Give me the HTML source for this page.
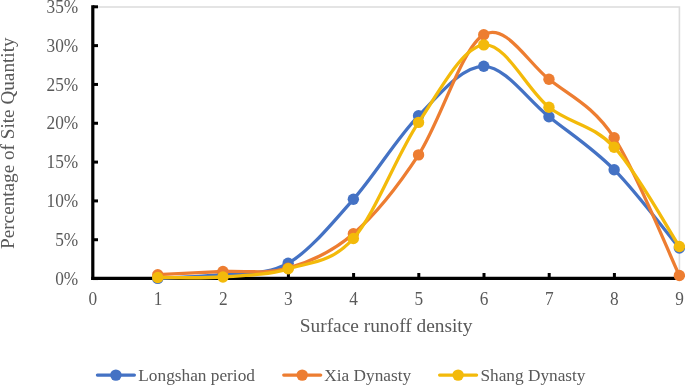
<!DOCTYPE html>
<html><head><meta charset="utf-8"><title>Chart</title>
<style>html,body{margin:0;padding:0;background:#fff;overflow:hidden}body{width:685px;height:385px;position:relative;font-family:"Liberation Serif",serif}</style></head>
<body>
<svg width="685" height="385" viewBox="0 0 685 385" style="display:block;position:absolute;left:0;top:0">
<rect width="685" height="385" fill="#fff"/>
<path d="M92.8,7.0 H679.4 V278.3" fill="none" stroke="#DCDCDC" stroke-width="1.6"/>
<g stroke="#000" stroke-width="3.2" fill="none">
<path d="M92.8,5.3 V280.05"/><path d="M91.2,278.45 H680"/>
</g><g stroke="#000" stroke-width="3" fill="none">
<path d="M92.8,6.80 H98"/>
<path d="M92.8,45.62 H98"/>
<path d="M92.8,84.44 H98"/>
<path d="M92.8,123.26 H98"/>
<path d="M92.8,162.09 H98"/>
<path d="M92.8,200.91 H98"/>
<path d="M92.8,239.73 H98"/>
<path d="M92.8,278.55 H98"/>
<path d="M158.00,278.55 V273"/>
<path d="M223.20,278.55 V273"/>
<path d="M288.40,278.55 V273"/>
<path d="M353.60,278.55 V273"/>
<path d="M418.80,278.55 V273"/>
<path d="M484.00,278.55 V273"/>
<path d="M549.20,278.55 V273"/>
<path d="M614.40,278.55 V273"/>
<path d="M679.60,278.55 V273"/>
</g>
<path d="M157.75,278.40 C168.62,277.73 201.22,276.92 222.95,274.40 C244.68,271.88 266.42,275.82 288.15,263.30 C309.88,250.78 331.62,223.88 353.35,199.30 C375.08,174.72 396.82,137.97 418.55,115.80 C440.28,93.63 462.02,66.15 483.75,66.30 C505.48,66.45 527.22,99.47 548.95,116.70 C570.68,133.93 592.42,147.82 614.15,169.70 C635.88,191.58 668.48,234.95 679.35,248.00" fill="none" stroke="#4472C4" stroke-width="3.3" stroke-linecap="round" stroke-linejoin="round"/>
<circle cx="157.75" cy="278.40" r="5.7" fill="#4472C4"/><circle cx="222.95" cy="274.40" r="5.7" fill="#4472C4"/><circle cx="288.15" cy="263.30" r="5.7" fill="#4472C4"/><circle cx="353.35" cy="199.30" r="5.7" fill="#4472C4"/><circle cx="418.55" cy="115.80" r="5.7" fill="#4472C4"/><circle cx="483.75" cy="66.30" r="5.7" fill="#4472C4"/><circle cx="548.95" cy="116.70" r="5.7" fill="#4472C4"/><circle cx="614.15" cy="169.70" r="5.7" fill="#4472C4"/><circle cx="679.35" cy="248.00" r="5.7" fill="#4472C4"/>

<path d="M157.75,274.70 C168.62,274.17 201.22,272.58 222.95,271.50 C244.68,270.42 266.42,274.48 288.15,268.20 C309.88,261.92 331.62,252.68 353.35,233.80 C375.08,214.92 396.82,188.08 418.55,154.90 C440.28,121.72 462.02,47.30 483.75,34.70 C505.48,22.10 527.22,62.12 548.95,79.30 C570.68,96.48 592.42,105.10 614.15,137.80 C635.88,170.50 668.48,252.55 679.35,275.50" fill="none" stroke="#ED7D31" stroke-width="3.3" stroke-linecap="round" stroke-linejoin="round"/>
<circle cx="157.75" cy="274.70" r="5.7" fill="#ED7D31"/><circle cx="222.95" cy="271.50" r="5.7" fill="#ED7D31"/><circle cx="288.15" cy="268.20" r="5.7" fill="#ED7D31"/><circle cx="353.35" cy="233.80" r="5.7" fill="#ED7D31"/><circle cx="418.55" cy="154.90" r="5.7" fill="#ED7D31"/><circle cx="483.75" cy="34.70" r="5.7" fill="#ED7D31"/><circle cx="548.95" cy="79.30" r="5.7" fill="#ED7D31"/><circle cx="614.15" cy="137.80" r="5.7" fill="#ED7D31"/><circle cx="679.35" cy="275.50" r="5.7" fill="#ED7D31"/>

<path d="M157.75,277.50 C168.62,277.42 201.22,278.45 222.95,277.00 C244.68,275.55 266.42,275.22 288.15,268.80 C309.88,262.38 331.62,262.90 353.35,238.50 C375.08,214.10 396.82,154.67 418.55,122.40 C440.28,90.13 462.02,47.43 483.75,44.90 C505.48,42.37 527.22,90.15 548.95,107.20 C570.68,124.25 592.42,123.98 614.15,147.20 C635.88,170.42 668.48,229.95 679.35,246.50" fill="none" stroke="#F3BA0A" stroke-width="3.3" stroke-linecap="round" stroke-linejoin="round"/>
<circle cx="157.75" cy="277.50" r="5.7" fill="#F3BA0A"/><circle cx="222.95" cy="277.00" r="5.7" fill="#F3BA0A"/><circle cx="288.15" cy="268.80" r="5.7" fill="#F3BA0A"/><circle cx="353.35" cy="238.50" r="5.7" fill="#F3BA0A"/><circle cx="418.55" cy="122.40" r="5.7" fill="#F3BA0A"/><circle cx="483.75" cy="44.90" r="5.7" fill="#F3BA0A"/><circle cx="548.95" cy="107.20" r="5.7" fill="#F3BA0A"/><circle cx="614.15" cy="147.20" r="5.7" fill="#F3BA0A"/><circle cx="679.35" cy="246.50" r="5.7" fill="#F3BA0A"/>

<g font-family="'Liberation Serif', serif" fill="#595959">
<g font-size="17.3" text-anchor="end">
<text transform="translate(78.2,13.00) scale(1,1.07)">35%</text>
<text transform="translate(78.2,51.82) scale(1,1.07)">30%</text>
<text transform="translate(78.2,90.64) scale(1,1.07)">25%</text>
<text transform="translate(78.2,129.46) scale(1,1.07)">20%</text>
<text transform="translate(78.2,168.29) scale(1,1.07)">15%</text>
<text transform="translate(78.2,207.11) scale(1,1.07)">10%</text>
<text transform="translate(78.2,245.93) scale(1,1.07)">5%</text>
<text transform="translate(78.2,284.75) scale(1,1.07)">0%</text>
</g><g font-size="17.3" text-anchor="middle">
<text transform="translate(92.80,304.7) scale(1,1.07)">0</text>
<text transform="translate(158.00,304.7) scale(1,1.07)">1</text>
<text transform="translate(223.20,304.7) scale(1,1.07)">2</text>
<text transform="translate(288.40,304.7) scale(1,1.07)">3</text>
<text transform="translate(353.60,304.7) scale(1,1.07)">4</text>
<text transform="translate(418.80,304.7) scale(1,1.07)">5</text>
<text transform="translate(484.00,304.7) scale(1,1.07)">6</text>
<text transform="translate(549.20,304.7) scale(1,1.07)">7</text>
<text transform="translate(614.40,304.7) scale(1,1.07)">8</text>
<text transform="translate(679.60,304.7) scale(1,1.07)">9</text>
</g>
<text font-size="19.35" text-anchor="middle" x="386.1" y="331.9">Surface runoff density</text>
<text font-size="19.2" text-anchor="middle" transform="translate(14,143.2) rotate(-90)">Percentage of Site Quantity</text>
<g font-size="17.3">
<text x="138.3" y="381">Longshan period</text>
<text x="324.3" y="381">Xia Dynasty</text>
<text x="480.4" y="381">Shang Dynasty</text>
</g></g>
<path d="M97.4,375.1 h37" stroke="#4472C4" stroke-width="3.2" stroke-linecap="round"/><circle cx="115.9" cy="375.1" r="5.7" fill="#4472C4"/>
<path d="M283.7,375.1 h37" stroke="#ED7D31" stroke-width="3.2" stroke-linecap="round"/><circle cx="302.2" cy="375.1" r="5.7" fill="#ED7D31"/>
<path d="M439.6,375.1 h37" stroke="#F3BA0A" stroke-width="3.2" stroke-linecap="round"/><circle cx="458.1" cy="375.1" r="5.7" fill="#F3BA0A"/>
</svg>
</body></html>
